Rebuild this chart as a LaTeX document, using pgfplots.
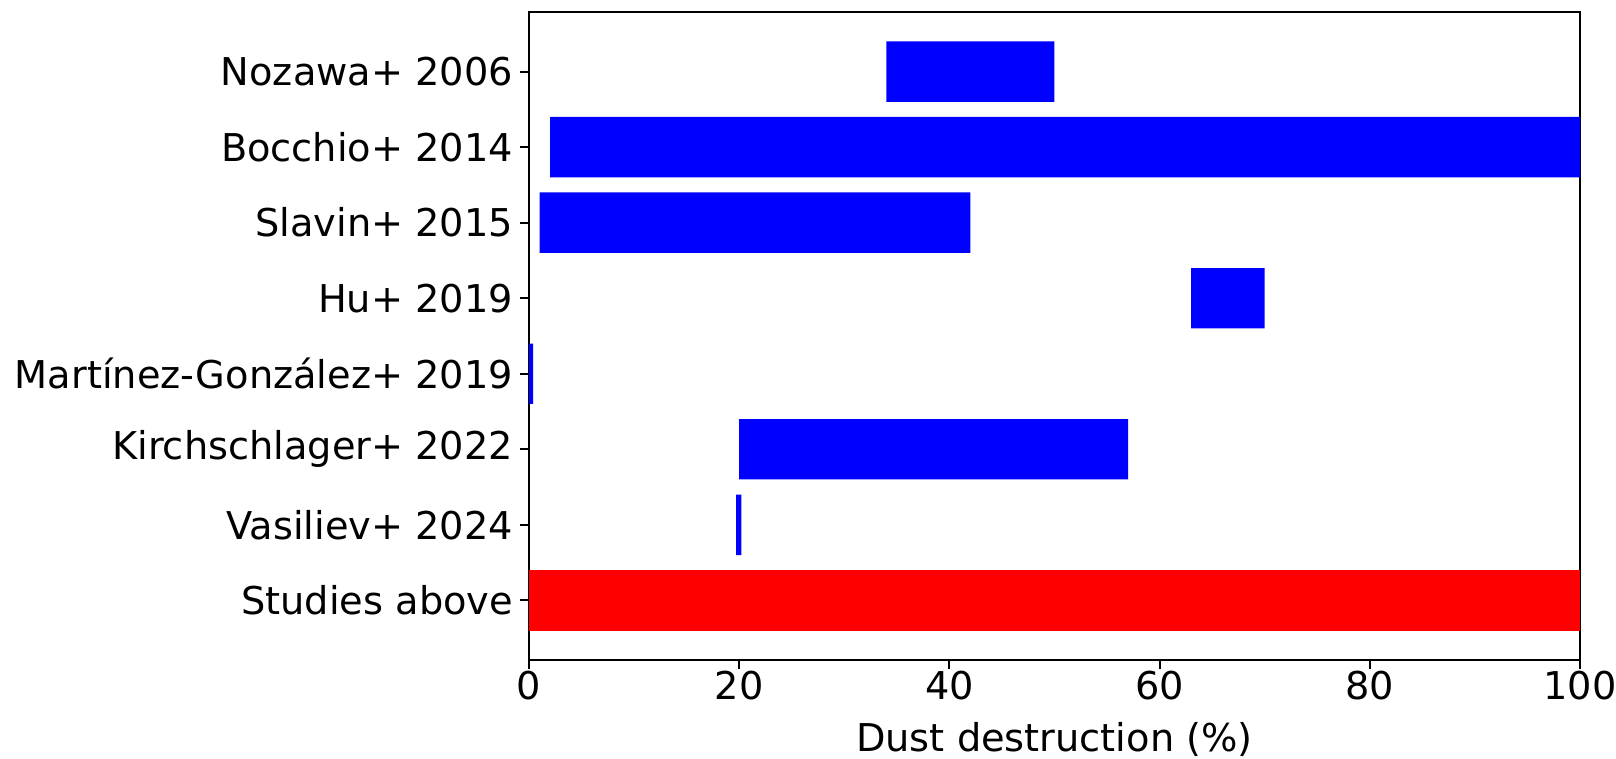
\documentclass[border=0pt]{standalone}
\usepackage{pgfplots}
\pgfplotsset{compat=1.18}
\usepackage{fontspec}
\setmainfont{DejaVu Sans}
\begin{document}
\begin{tikzpicture}
\begin{axis}[
  scale only axis, width=525.5pt, height=324pt,
  xbar stacked, bar width=0.8,
  xmin=0, xmax=100, ymin=-0.79, ymax=7.79,
  xtick={0,20,...,100}, ytick={0,...,7},
  yticklabels={Studies above, Vasiliev+ 2024, Kirchschlager+ 2022, Martínez-González+ 2019, Hu+ 2019, Slavin+ 2015, Bocchio+ 2014, Nozawa+ 2006},
  xtick pos=bottom, ytick pos=left,
  tick align=outside, major tick length=4.5pt,
  tick style={black, line width=0.9pt},
  axis line style={black, line width=0.9pt},
  /pgf/number format/assume math mode=true,
  ticklabel style={font=\fontsize{19.15}{23}\selectfont, inner sep=0pt},
  yticklabel style={anchor=east, xshift=-3.3pt},
  xticklabel style={anchor=north, yshift=-0.8pt},
  xlabel={Dust destruction (\%)},
  xlabel style={font=\fontsize{19.15}{23}\selectfont, inner sep=0pt, anchor=north, at={(axis description cs:0.5,0)}, yshift=-31pt},
]
\addplot[draw=none, fill=none] coordinates {(34,7) (2,6) (1,5) (63,4) (0,3) (20,2) (19.7,1) (0,0)};
\addplot[draw=none, fill=blue] coordinates {(16,7) (98,6) (41,5) (7,4) (0.4,3) (37,2) (0.5,1) (0,0)};
\addplot[draw=none, fill=red] coordinates {(0,7) (0,6) (0,5) (0,4) (0,3) (0,2) (0,1) (100,0)};
\end{axis}
\pgfresetboundingbox
\path ([xshift=-264.5pt,yshift=-49.5pt]current axis.south west) rectangle ([xshift=18pt,yshift=6pt]current axis.north east);
\end{tikzpicture}
\end{document}
